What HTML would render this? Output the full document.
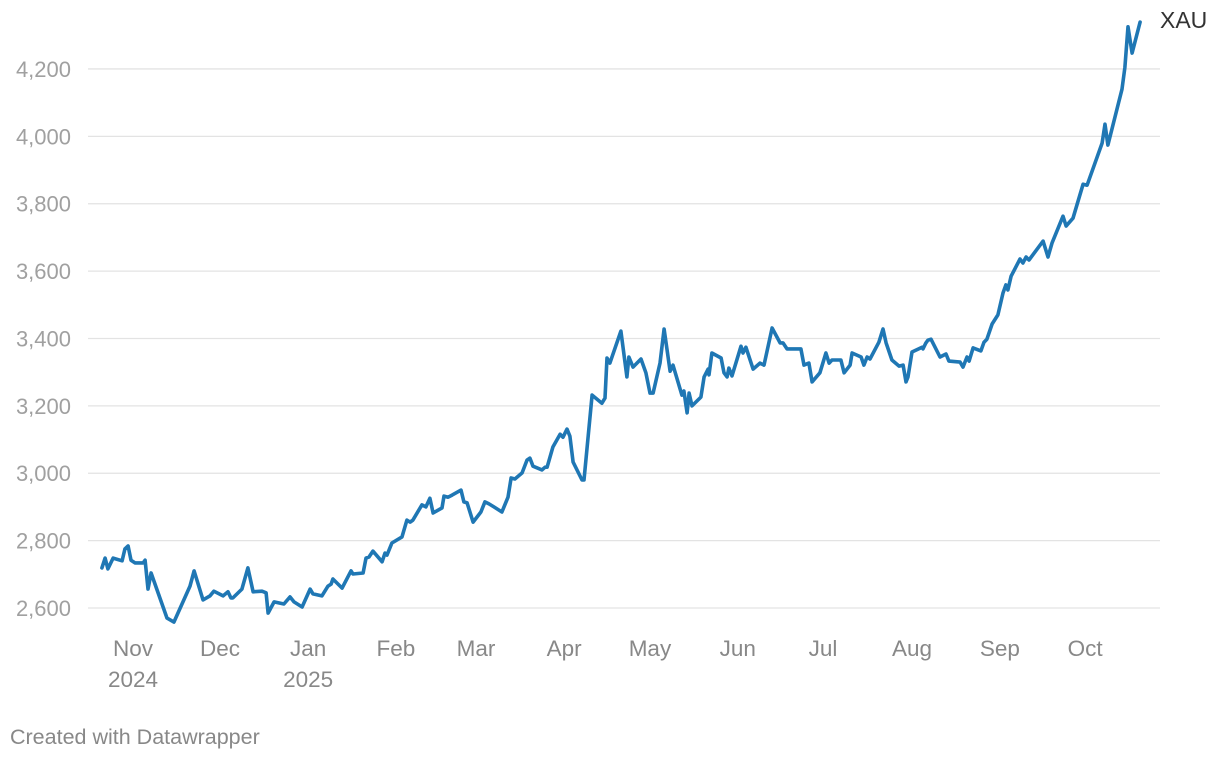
<!DOCTYPE html>
<html><head><meta charset="utf-8"><style>
body{margin:0;background:#fff;font-family:"Liberation Sans",Arial,sans-serif}
svg text{font-family:"Liberation Sans",Arial,sans-serif}
</style></head><body>
<svg id="chart" width="1220" height="760" viewBox="0 0 1220 760">
<g id="grid"></g>
<g id="yax"></g>
<g id="xax"></g>
<path id="line" fill="none" stroke="#1f77b4" stroke-width="3.6" stroke-linejoin="round" stroke-linecap="round"/>
<text x="1160" y="28" font-size="23" fill="#333">XAU</text>
<text x="10" y="744" font-size="21.5" fill="#888">Created with Datawrapper</text>
</svg>
<script>
const days=[-10.8,-9.7,-8.7,-6.9,-3.8,-2.8,-1.7,-0.7,0.7,3.5,4.2,5.2,6.3,11.8,14.2,19.8,21.2,24.3,26.7,28.1,31.3,33,34,34.7,37.8,39.9,41.7,44.8,46.2,46.9,49,52.4,54.5,55.9,58.7,61.5,62.5,65.6,67.7,68.8,69.4,72.6,75.7,76.4,79.9,80.9,81.9,83.3,86.5,87.5,88.2,89.9,93.4,95.1,96.2,97.2,100.3,101.7,103.1,104.2,107.3,108,109.4,110.8,113.9,114.9,116,118.1,120.8,122.2,123.6,125.3,128.1,130.2,131.3,132.6,135.1,136.8,137.8,138.9,142,143.1,143.8,145.8,148.3,149.3,150.7,151.7,152.8,155.9,156.6,159.4,162.8,163.9,164.6,165.6,169.4,171.5,172.2,173.6,176.4,178.1,179.5,180.6,183,184.4,186.5,187.5,190.6,191.3,192.4,193.1,194.1,197.2,198.3,199.7,200,201,204.2,205.2,206.3,206.9,208,211.1,211.8,212.8,215.3,217.7,219.1,221.9,224.7,225.7,227.1,231.9,233,234.7,235.8,238.5,240.6,241.7,242.7,245.8,246.9,249,249.7,252.8,253.8,254.9,255.9,259,260.4,261.5,263.5,266,267.4,268.4,269.1,270.5,274,274.3,275.3,276,277.1,280.2,282.3,283.3,287.2,288.2,289.6,290.3,291.7,294.4,295.5,296.5,298.3,300.3,302.1,303.1,303.8,304.9,308,309,310.1,311.1,316,317.7,319.1,322.9,324,326.4,329.9,331.3,336.5,337.5,338.5,343.4,344.4,345.5,346.9,349.7];
const prices=[2719,2748,2716,2748,2740,2775,2784,2742,2734,2734,2742,2656,2704,2570,2558,2665,2710,2624,2636,2650,2636,2648,2630,2630,2656,2719,2648,2650,2645,2585,2618,2612,2633,2618,2603,2656,2642,2636,2665,2671,2686,2659,2710,2701,2704,2748,2751,2769,2737,2763,2757,2793,2811,2861,2855,2861,2906,2900,2926,2882,2897,2932,2929,2935,2950,2915,2912,2855,2885,2915,2909,2900,2885,2929,2986,2983,3001,3039,3045,3021,3010,3018,3018,3078,3116,3107,3131,3110,3033,2980,2980,3232,3208,3223,3342,3327,3422,3286,3345,3315,3339,3298,3238,3238,3327,3428,3303,3321,3232,3244,3179,3238,3200,3226,3286,3309,3292,3357,3342,3298,3286,3312,3289,3377,3357,3374,3309,3327,3321,3431,3387,3387,3369,3369,3321,3327,3271,3298,3357,3327,3336,3336,3298,3321,3357,3345,3321,3345,3339,3389,3428,3387,3336,3318,3321,3271,3286,3360,3374,3369,3387,3395,3398,3345,3354,3333,3330,3315,3345,3333,3372,3363,3389,3398,3443,3470,3535,3559,3544,3585,3636,3624,3642,3633,3689,3642,3683,3763,3734,3757,3858,3855,3980,4036,3974,4140,4205,4325,4247,4339];
const yTicks=[2600,2800,3000,3200,3400,3600,3800,4000,4200];
const yTickLabels=["2,600","2,800","3,000","3,200","3,400","3,600","3,800","4,000","4,200"];
const xTickDays=[0,30.2,60.8,91.3,119.1,149.7,179.5,210,239.6,270.5,301,330.6];
const xTickLabels=["Nov","Dec","Jan","Feb","Mar","Apr","May","Jun","Jul","Aug","Sep","Oct"];
const xTickSub=["2024","","2025","","","","","","","","",""];

const X=d=>133+d*2.88;
const Y=v=>608-(v-2600)*0.3369;
const NS="http://www.w3.org/2000/svg";
const grid=document.getElementById('grid'),yax=document.getElementById('yax'),xax=document.getElementById('xax');
yTicks.forEach((t,i)=>{
  const l=document.createElementNS(NS,'line');
  l.setAttribute('x1',88);l.setAttribute('x2',1160);l.setAttribute('y1',Y(t));l.setAttribute('y2',Y(t));
  l.setAttribute('stroke','#e3e3e3');l.setAttribute('stroke-width','1.3');
  
  
  grid.appendChild(l);
  const tx=document.createElementNS(NS,'text');
  tx.setAttribute('x',71);tx.setAttribute('y',Y(t)+8);tx.setAttribute('text-anchor','end');
  tx.setAttribute('font-size','22');tx.setAttribute('fill','#a0a0a0');
  tx.textContent=yTickLabels[i];
  
  
  yax.appendChild(tx);
});
xTickDays.forEach((d,i)=>{
  const tx=document.createElementNS(NS,'text');
  tx.setAttribute('x',X(d));tx.setAttribute('y',656);tx.setAttribute('text-anchor','middle');
  tx.setAttribute('font-size','22.5');tx.setAttribute('fill','#888');
  tx.textContent=xTickLabels[i];
  
  
  xax.appendChild(tx);
  if(xTickSub[i]){
    const t2=document.createElementNS(NS,'text');
    t2.setAttribute('x',X(d));t2.setAttribute('y',687);t2.setAttribute('text-anchor','middle');
    t2.setAttribute('font-size','22.5');t2.setAttribute('fill','#888');
    t2.textContent=xTickSub[i];
    
    
    xax.appendChild(t2);
  }
});
document.getElementById('line').setAttribute('d',days.map((d,i)=>(i?'L':'M')+X(d).toFixed(1)+','+Y(prices[i]).toFixed(1)).join(''));
</script>
</body></html>
